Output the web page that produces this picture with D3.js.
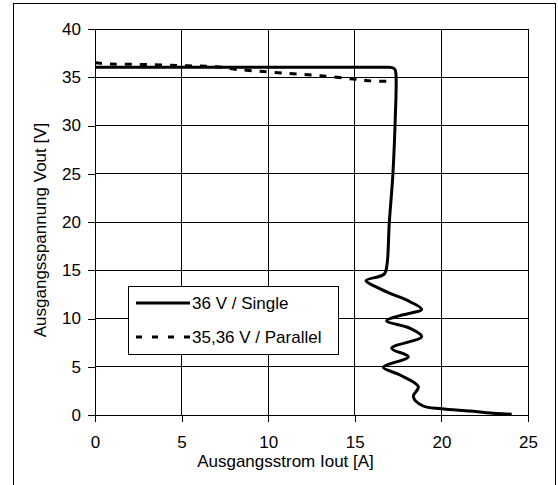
<!DOCTYPE html>
<html lang="de">
<head>
  <meta charset="utf-8">
  <title>Ausgangskennlinie</title>
  <script src="https://d3js.org/d3.v7.min.js"></script>
  <style>
    body { margin: 0; background: #fff; }
    svg { display: block; font-family: "Liberation Sans", Arial, sans-serif; }
    .grid line { stroke: #000; stroke-width: 1; shape-rendering: crispEdges; }
    .axis path, .axis line { stroke: #000; shape-rendering: crispEdges; }
    .axis text { font-size: 17px; fill: #000; }
  </style>
</head>
<body>
<svg id="chart" width="558" height="485"></svg>
<script>
  // Daten
  const xTicks = [0, 5, 10, 15, 20, 25];
  const yTicks = [0, 5, 10, 15, 20, 25, 30, 35, 40];

  const singleI = [0, 5, 10, 15, 16.8, 17.15, 17.32, 17.38, 17.32, 17.19, 16.99, 16.86, 16.7, 15.65, 16.2, 17.03, 18.19, 18.86, 17.6, 16.84, 18.19, 18.86, 17.13, 18.09, 16.65, 17.61, 18.67, 18.38, 18.95, 20.0, 21.65, 22.6, 24.06];
  const singleV = [36.03, 36.03, 36.03, 36.03, 36.03, 36.0, 35.8, 35.2, 29.9, 24.7, 19.9, 15.6, 14.6, 13.92, 13.3, 12.61, 11.74, 10.95, 10.3, 9.77, 8.98, 8.12, 6.91, 6.04, 4.94, 4.15, 2.93, 1.9, 0.93, 0.65, 0.41, 0.24, 0.07];

  const parallelI = [0, 0.87, 2.4, 4.9, 7.0, 8.0, 9.05, 11.07, 13.0, 14.9, 16.07, 17.2];
  const parallelV = [36.5, 36.37, 36.34, 36.2, 36.1, 35.85, 35.68, 35.41, 35.16, 34.82, 34.61, 34.58];

  const single = singleI.map((d, i) => ({ i: d, v: singleV[i] }));
  const parallel = parallelI.map((d, i) => ({ i: d, v: parallelV[i] }));

  // Plotbereich
  const plotLeft = 95, plotRight = 528, plotTop = 29, plotBottom = 415;

  const svg = d3.select("#chart");

  // äußerer Rahmen
  svg.append("rect")
    .attr("x", 13.5).attr("y", 3.5)
    .attr("width", 542).attr("height", 500)
    .attr("fill", "none").attr("stroke", "#000");

  const x = d3.scaleLinear().domain([0, 25]).range([plotLeft, plotRight]);
  const y = d3.scaleLinear().domain([0, 40]).range([plotBottom, plotTop]);

  // Gitter
  const grid = svg.append("g").attr("class", "grid");
  grid.selectAll(".gx").data(xTicks.slice(1, -1)).enter().append("line")
    .attr("x1", d => x(d)).attr("x2", d => x(d))
    .attr("y1", plotTop).attr("y2", plotBottom);
  grid.selectAll(".gy").data(yTicks.slice(1, -1)).enter().append("line")
    .attr("x1", plotLeft).attr("x2", plotRight)
    .attr("y1", d => y(d)).attr("y2", d => y(d));

  // Rahmen des Plotbereichs
  svg.append("rect")
    .attr("x", plotLeft).attr("y", plotTop)
    .attr("width", plotRight - plotLeft).attr("height", plotBottom - plotTop)
    .attr("fill", "none").attr("stroke", "#000")
    .attr("shape-rendering", "crispEdges");

  // Achsen
  svg.append("g").attr("class", "axis")
    .attr("transform", `translate(0,${plotBottom})`)
    .call(d3.axisBottom(x).tickValues(xTicks).tickSize(7).tickPadding(14).tickSizeOuter(0))
    .call(g => g.select(".domain").remove());

  svg.append("g").attr("class", "axis")
    .attr("transform", `translate(${plotLeft},0)`)
    .call(d3.axisLeft(y).tickValues(yTicks).tickSize(7).tickPadding(7).tickSizeOuter(0))
    .call(g => g.select(".domain").remove());

  // Achsentitel
  svg.append("text")
    .attr("x", (plotLeft + plotRight) / 2 - 26).attr("y", 467)
    .attr("text-anchor", "middle")
    .style("font-size", "17px")
    .text("Ausgangsstrom Iout [A]");

  svg.append("text")
    .attr("transform", `translate(46,${(plotTop + plotBottom) / 2 + 8}) rotate(-90)`)
    .attr("text-anchor", "middle")
    .style("font-size", "17px")
    .text("Ausgangsspannung Vout [V]");

  // Kurven
  const line = d3.line()
    .x(d => x(d.i))
    .y(d => y(d.v))
    .curve(d3.curveCatmullRom.alpha(0.5));

  svg.append("path")
    .datum(parallel)
    .attr("fill", "none")
    .attr("stroke", "#000")
    .attr("stroke-width", 3)
    .attr("stroke-dasharray", "7,8")
    .attr("d", line);

  svg.append("path")
    .datum(single)
    .attr("fill", "none")
    .attr("stroke", "#000")
    .attr("stroke-width", 3)
    .attr("stroke-linejoin", "round")
    .attr("d", line);

  // Legende
  const legend = svg.append("g");
  legend.append("rect")
    .attr("x", 128.5).attr("y", 286.5)
    .attr("width", 210).attr("height", 68)
    .attr("fill", "#fff").attr("stroke", "#000");

  const items = [
    { label: "36 V / Single", dash: null, yy: 303 },
    { label: "35,36 V / Parallel", dash: "6,10", yy: 337 }
  ];
  items.forEach(it => {
    legend.append("line")
      .attr("x1", 136).attr("x2", 190)
      .attr("y1", it.yy).attr("y2", it.yy)
      .attr("stroke", "#000").attr("stroke-width", 3)
      .attr("stroke-dasharray", it.dash);
    legend.append("text")
      .attr("x", 192).attr("y", it.yy + 6)
      .style("font-size", "17px")
      .text(it.label);
  });
</script>
</body>
</html>
